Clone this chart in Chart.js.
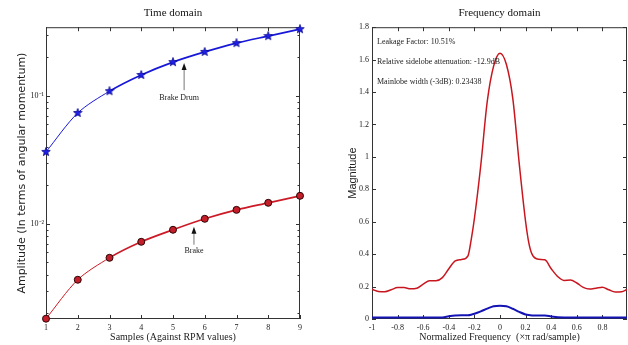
<!DOCTYPE html>
<html>
<head>
    <title>Time domain / Frequency domain</title>
    <script src="https://cdn.jsdelivr.net/npm/chart.js"></script>
    <style>
        body {
            margin: 0;
            background: #fff;
        }
        #wrap {
            position: relative;
            width: 628px;
            height: 345px;
        }
        canvas {
            position: absolute;
            top: 0;
        }
        #timeChart { left: 0; }
        #freqChart { left: 320px; }
    </style>
</head>
<body>
<div id="wrap">
    <canvas id="timeChart" width="320" height="345"></canvas>
    <canvas id="freqChart" width="308" height="345"></canvas>
</div>

<script>
    // time domain (log amplitude)
    const samples = [1, 2, 3, 4, 5, 6, 7, 8, 9];
    const brakeDrum = [0.0365, 0.0736, 0.109, 0.146, 0.184, 0.221, 0.259, 0.294, 0.333];
    const brake = [0.00181, 0.00365, 0.00542, 0.00723, 0.00898, 0.01094, 0.01285, 0.01459, 0.01655];
    const sampleTicks = [1, 2, 3, 4, 5, 6, 7, 8, 9];
    const ampTicks = [0.002, 0.003, 0.004, 0.005, 0.006, 0.007, 0.008, 0.009,
                      0.01, 0.02, 0.03, 0.04, 0.05, 0.06, 0.07, 0.08, 0.09,
                      0.1, 0.2, 0.3];

    // frequency domain
    const freq = [-1, -0.95, -0.9, -0.85, -0.8, -0.75, -0.7, -0.65, -0.6, -0.55, -0.5, -0.45,
                  -0.4, -0.35, -0.3, -0.25, -0.225, -0.2, -0.15, -0.1, -0.05, 0,
                  0.05, 0.1, 0.15, 0.2, 0.225, 0.25, 0.3, 0.35, 0.4, 0.45, 0.5,
                  0.55, 0.6, 0.65, 0.7, 0.75, 0.8, 0.85, 0.9, 0.95, 0.992];
    const upperMag = [0.183, 0.17, 0.168, 0.18, 0.194, 0.194, 0.186, 0.19, 0.215, 0.236, 0.236, 0.255,
                      0.31, 0.358, 0.367, 0.39, 0.49, 0.62, 0.95, 1.34, 1.56, 1.64,
                      1.57, 1.36, 0.96, 0.6, 0.47, 0.4, 0.368, 0.365, 0.31, 0.262, 0.238,
                      0.24, 0.222, 0.195, 0.185, 0.19, 0.196, 0.18, 0.166, 0.168, 0.182];
    const lowerMag = [0.01, 0.01, 0.01, 0.01, 0.01, 0.01, 0.01, 0.01, 0.01, 0.01, 0.01, 0.01,
                      0.017, 0.022, 0.023, 0.023, 0.026, 0.032, 0.047, 0.064, 0.079, 0.082,
                      0.079, 0.063, 0.044, 0.028, 0.024, 0.022, 0.021, 0.021, 0.016, 0.011, 0.01,
                      0.01, 0.01, 0.01, 0.01, 0.01, 0.01, 0.01, 0.01, 0.01, 0.01];
    const freqTicks = [-1, -0.8, -0.6, -0.4, -0.2, 0, 0.2, 0.4, 0.6, 0.8];
    const magTicks = [0, 0.2, 0.4, 0.6, 0.8, 1, 1.2, 1.4, 1.6, 1.8];

    const serif = '"Liberation Serif", "Times New Roman", serif';

    // filled five point star used as a marker
    function starMarker(size, fill, stroke) {
        const c = document.createElement('canvas');
        c.width = size;
        c.height = size;
        const g = c.getContext('2d');
        const r = size / 2 - 0.5;
        g.beginPath();
        for (let i = 0; i < 10; i++) {
            const rr = i % 2 ? r * 0.42 : r;
            const a = -Math.PI / 2 + i * Math.PI / 5;
            g.lineTo(size / 2 + rr * Math.cos(a), size / 2 + rr * Math.sin(a));
        }
        g.closePath();
        g.fillStyle = fill;
        g.fill();
        g.strokeStyle = stroke;
        g.lineWidth = 0.8;
        g.stroke();
        return c;
    }

    // matlab style box with inward tick marks
    const boxTicks = {
        id: 'boxTicks',
        beforeDatasetsDraw(chart) {
            const {ctx, chartArea: a, scales: {x, y}} = chart;
            ctx.save();
            ctx.strokeStyle = '#333';
            ctx.lineWidth = 1;
            ctx.strokeRect(a.left + 0.5, a.top + 0.5, a.width - 1, a.height - 1);
            ctx.beginPath();
            x.ticks.forEach(t => {
                const px = Math.round(x.getPixelForValue(t.value)) + 0.5;
                ctx.moveTo(px, a.bottom);
                ctx.lineTo(px, a.bottom - 4);
                ctx.moveTo(px, a.top);
                ctx.lineTo(px, a.top + 4);
            });
            y.ticks.forEach(t => {
                const py = Math.round(y.getPixelForValue(t.value)) + 0.5;
                const len = t.label === '' ? 2.5 : 4;
                ctx.moveTo(a.left, py);
                ctx.lineTo(a.left + len, py);
                ctx.moveTo(a.right, py);
                ctx.lineTo(a.right - len, py);
            });
            ctx.stroke();
            ctx.restore();
        }
    };

    // arrows with labels for the time domain plot
    const arrowNotes = [
        {text: 'Brake Drum', x: 5.35, tip: 0.181, tail: 0.111, labelX: 5.19, labelY: 0.0965},
        {text: 'Brake', x: 5.66, tip: 0.00947, tail: 0.00686, labelX: 5.66, labelY: 0.00616}
    ];

    const arrowPlugin = {
        id: 'arrows',
        afterDatasetsDraw(chart) {
            const {ctx, scales: {x, y}} = chart;
            ctx.save();
            arrowNotes.forEach(n => {
                const px = x.getPixelForValue(n.x);
                const tipY = y.getPixelForValue(n.tip);
                const tailY = y.getPixelForValue(n.tail);
                ctx.strokeStyle = '#777';
                ctx.lineWidth = 1;
                ctx.beginPath();
                ctx.moveTo(px, tailY);
                ctx.lineTo(px, tipY + 4);
                ctx.stroke();
                ctx.fillStyle = '#111';
                ctx.beginPath();
                ctx.moveTo(px, tipY);
                ctx.lineTo(px - 2.5, tipY + 7);
                ctx.lineTo(px + 2.5, tipY + 7);
                ctx.closePath();
                ctx.fill();
                ctx.font = '8px ' + serif;
                ctx.textAlign = 'center';
                ctx.textBaseline = 'middle';
                ctx.fillStyle = '#222';
                ctx.fillText(n.text, x.getPixelForValue(n.labelX), y.getPixelForValue(n.labelY));
            });
            ctx.restore();
        }
    };

    // text block in the frequency domain plot
    const infoLines = ['Leakage Factor: 10.51%', 'Relative sidelobe attenuation: -12.9dB', 'Mainlobe width (-3dB): 0.23438'];

    const infoPlugin = {
        id: 'info',
        afterDatasetsDraw(chart) {
            const {ctx, chartArea: a} = chart;
            ctx.save();
            ctx.font = '8px ' + serif;
            ctx.fillStyle = '#222';
            ctx.textBaseline = 'middle';
            infoLines.forEach((s, i) => ctx.fillText(s, a.left + 5, a.top + 15 + i * 20));
            ctx.restore();
        }
    };

    const fixedTicks = list => scale => { scale.ticks = list.map(v => ({value: v})); };

    function axisX(min, max, list, title, fmt) {
        return {
            type: 'linear',
            min: min,
            max: max,
            afterBuildTicks: fixedTicks(list),
            afterFit: s => { s.height = 26; },
            grid: {display: false, drawTicks: false},
            border: {display: false},
            ticks: {
                autoSkip: false,
                maxRotation: 0,
                padding: 4,
                color: '#222',
                font: {family: serif, size: 8},
                callback: fmt
            },
            title: {
                display: true,
                text: title,
                color: '#222',
                font: {family: serif, size: 10},
                padding: {top: 0, bottom: 2}
            }
        };
    }

    const plainNum = v => String(Math.round(v * 10) / 10);

    new Chart(document.getElementById('timeChart'), {
        type: 'scatter',
        data: {
            datasets: [{
                label: 'Brake Drum',
                data: samples.map((s, i) => ({x: s, y: brakeDrum[i]})),
                showLine: true,
                borderColor: '#1818d8',
                pointStyle: starMarker(10, '#2020e8', '#0a0a90'),
                pointRadius: 5,
                tension: 0.3,
                clip: false,
                segment: {borderWidth: c => c.p0DataIndex < 2 ? 1 : 1.7}
            }, {
                label: 'Brake',
                data: samples.map((s, i) => ({x: s, y: brake[i]})),
                showLine: true,
                borderColor: '#cc1a26',
                backgroundColor: '#c41e2a',
                pointBorderColor: '#2a0505',
                pointBorderWidth: 1,
                pointRadius: 3.5,
                tension: 0.3,
                clip: false,
                segment: {borderWidth: c => c.p0DataIndex < 2 ? 1 : 1.7}
            }]
        },
        options: {
            responsive: false,
            animation: false,
            layout: {padding: {left: 0, right: 20, top: 0, bottom: 0}},
            plugins: {
                legend: {display: false},
                tooltip: {enabled: false},
                title: {
                    display: true,
                    text: 'Time domain',
                    fullSize: false,
                    color: '#111',
                    font: {family: serif, size: 11, weight: 'normal'},
                    padding: {top: 7, bottom: 7}
                }
            },
            scales: {
                x: axisX(1, 9, sampleTicks, 'Samples (Against RPM values)', plainNum),
                y: {
                    type: 'logarithmic',
                    min: 0.0018,
                    max: 0.345,
                    afterBuildTicks: fixedTicks(ampTicks),
                    afterFit: s => { s.width = 46; },
                    grid: {display: false, drawTicks: false},
                    border: {display: false},
                    ticks: {
                        autoSkip: false,
                        padding: 2,
                        color: '#222',
                        font: {family: serif, size: 8},
                        callback: v => v === 0.1 ? '10⁻¹' : (v === 0.01 ? '10⁻²' : '')
                    },
                    title: {
                        display: true,
                        text: 'Amplitude (In terms of angular momentum)',
                        color: '#222',
                        font: {family: '"DejaVu Sans", sans-serif', size: 11},
                        padding: {top: 16, bottom: 0}
                    }
                }
            }
        },
        plugins: [boxTicks, arrowPlugin]
    });

    new Chart(document.getElementById('freqChart'), {
        type: 'scatter',
        data: {
            datasets: [{
                data: freq.map((f, i) => ({x: f, y: upperMag[i]})),
                showLine: true,
                borderColor: '#c8161e',
                borderWidth: 1.5,
                pointRadius: 0,
                cubicInterpolationMode: 'monotone'
            }, {
                data: freq.map((f, i) => ({x: f, y: lowerMag[i]})),
                showLine: true,
                borderColor: '#1414b4',
                borderWidth: 2,
                pointRadius: 0,
                cubicInterpolationMode: 'monotone'
            }]
        },
        options: {
            responsive: false,
            animation: false,
            layout: {padding: {left: 0, right: 1, top: 0, bottom: 0}},
            plugins: {
                legend: {display: false},
                tooltip: {enabled: false},
                title: {
                    display: true,
                    text: 'Frequency domain',
                    fullSize: false,
                    color: '#111',
                    font: {family: serif, size: 11, weight: 'normal'},
                    padding: {top: 7, bottom: 7}
                }
            },
            scales: {
                x: axisX(-1, 0.992, freqTicks, 'Normalized Frequency  (×π rad/sample)', plainNum),
                y: {
                    type: 'linear',
                    min: 0,
                    max: 1.8,
                    afterBuildTicks: fixedTicks(magTicks),
                    afterFit: s => { s.width = 52; },
                    grid: {display: false, drawTicks: false},
                    border: {display: false},
                    ticks: {
                        autoSkip: false,
                        padding: 3,
                        color: '#222',
                        font: {family: serif, size: 8},
                        callback: plainNum
                    },
                    title: {
                        display: true,
                        text: 'Magnitude',
                        color: '#222',
                        font: {family: '"Liberation Sans", sans-serif', size: 11},
                        padding: {top: 26, bottom: 0}
                    }
                }
            }
        },
        plugins: [boxTicks, infoPlugin]
    });
</script>
</body>
</html>
